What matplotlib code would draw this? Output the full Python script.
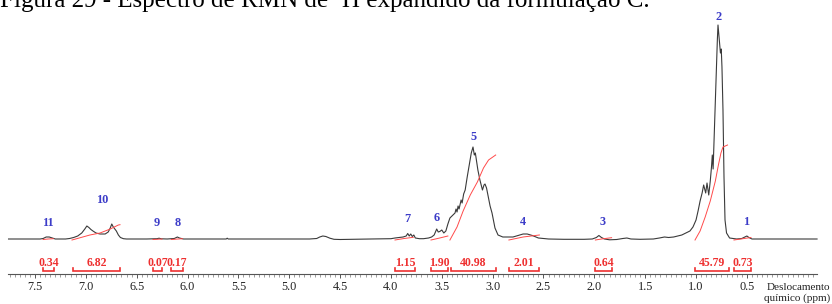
import numpy as np
import matplotlib
matplotlib.use("Agg")
import matplotlib.pyplot as plt
from matplotlib.ticker import FixedLocator, NullFormatter

# spectrum trace (ppm, intensity in arbitrary units)
ppm = [7.76, 7.60, 7.45, 7.42, 7.39, 7.36, 7.33, 7.30, 7.20, 7.16, 7.12, 7.08,
       7.04, 7.01, 6.99, 6.97, 6.95, 6.93, 6.90, 6.86, 6.81, 6.78, 6.76, 6.745,
       6.73, 6.715, 6.70, 6.68, 6.66, 6.63, 6.60, 6.40, 6.30, 6.28, 6.26, 6.20,
       6.13, 6.10, 6.08, 6.04, 5.90, 5.62, 5.61, 5.60, 4.80, 4.73, 4.70, 4.67,
       4.64, 4.60, 4.56, 4.50, 4.40, 4.20, 4.00, 3.96, 3.92, 3.88, 3.85, 3.835,
       3.82, 3.805, 3.79, 3.775, 3.76, 3.72, 3.68, 3.63, 3.60, 3.575, 3.55, 3.535,
       3.52, 3.50, 3.48, 3.46, 3.44, 3.42, 3.39, 3.37, 3.36, 3.35, 3.34, 3.33,
       3.31, 3.30, 3.285, 3.27, 3.25, 3.23, 3.21, 3.193, 3.18, 3.17, 3.155, 3.145,
       3.125, 3.10, 3.085, 3.075, 3.06, 3.046, 3.025, 3.006, 2.977, 2.947, 2.90,
       2.80, 2.75, 2.70, 2.66, 2.61, 2.55, 2.45, 2.30, 2.10, 2.02, 1.98, 1.955,
       1.93, 1.90, 1.85, 1.78, 1.72, 1.68, 1.64, 1.55, 1.42, 1.36, 1.31, 1.27,
       1.22, 1.18, 1.14, 1.10, 1.06, 1.03, 1.00, 0.98, 0.96, 0.94, 0.925, 0.905,
       0.892, 0.875, 0.86, 0.848, 0.84, 0.832, 0.825, 0.814, 0.80, 0.79, 0.784,
       0.776, 0.768, 0.76, 0.752, 0.745, 0.735, 0.725, 0.715, 0.70, 0.67, 0.60,
       0.55, 0.52, 0.50, 0.48, 0.45, 0.30, -0.19]
intensity = [0, 0, 0, 0.5, 2, 2, 1, 0, 0, 0.5, 1.5, 3,
             6, 10, 13, 11.5, 9.5, 8, 6, 5, 5, 7, 11, 15,
             12, 10, 8, 4, 1.5, 0.3, 0, 0, 0.3, 0.8, 0.2, 0,
             0.5, 2, 1, 0, 0, 0, 0.8, 0, 0, 0.5, 2, 3,
             2.5, 0.8, -0.3, -0.5, -0.3, 0, 0.3, 1, 1.5, 2, 3, 5.5,
             3, 5, 2.5, 4, 1, 0.3, 0.3, 1, 2, 4, 10, 7,
             7.5, 9, 6, 8, 15, 21, 24, 26, 30, 27, 33, 30,
             39, 36, 45, 49, 62, 74, 86, 92, 84, 86, 76, 69,
             59, 49, 54, 55, 51, 44, 33, 26, 11, 4, 2,
             2, 3.5, 5, 5, 3.5, 1, 0, -0.3, -0.3, 0, 1.5, 3.5,
             1.5, 0, -0.8, -0.5, 0.5, 1, 0, -0.3, 0, 1, 2, 1.5,
             2, 3, 4, 6, 8, 12, 19, 28, 38, 46, 54, 46,
             56, 44, 58, 72, 84, 70, 92, 129, 170, 200, 214,
             205, 196, 186, 190, 172, 129, 62, 19, 6, 1, 0,
             0.5, 2, 3, 1.5, 0, 0, 0]

# integral regions: (from ppm, to ppm, value)
int_from = [7.42, 7.126, 6.34, 6.16, 3.96, 3.606, 3.41, 2.84, 1.99, 1.01, 0.627]
int_to = [7.31, 6.664, 6.25, 6.045, 3.76, 3.439, 2.967, 2.54, 1.83, 0.676, 0.46]
int_values = ["0.34", "6.82", "0.07", "0.17", "1.15", "1.90", "40.98", "2.01",
              "0.64", "45.79", "0.73"]

# integral curves as drawn (ppm, height)
int_curve_ppm = [
    [7.42, 7.37, 7.32],
    [7.136, 6.96, 6.86, 6.76, 6.68, 6.664],
    [6.34, 6.25],
    [6.16, 6.05],
    [3.96, 3.87, 3.78],
    [3.606, 3.52, 3.44],
    [3.42, 3.35, 3.29, 3.22, 3.15, 3.09, 3.04, 2.97],
    [2.84, 2.70, 2.54],
    [1.99, 1.91, 1.83],
    [1.01, 0.96, 0.91, 0.86, 0.81, 0.78, 0.755, 0.735, 0.69],
    [0.627, 0.54, 0.46],
]
int_curve_h = [
    [-0.5, 0, 0.3],
    [-1, 4, 6, 10, 14, 14.3],
    [-0.5, 0],
    [-0.5, 0.3],
    [-1, 0.5, 1.7],
    [-1, 1, 3],
    [-1, 12, 28, 44, 57, 71, 79, 84],
    [-1, 2, 4],
    [-1, 0.3, 1.3],
    [-1, 8, 22, 38, 58, 74, 86, 92, 94],
    [-1, 0.3, 1.5],
]

# peak numbers
peak_labels = ["11", "10", "9", "8", "7", "6", "5", "4", "3", "2", "1"]
peak_ppm = [7.372, 6.841, 6.30, 6.094, 3.842, 3.547, 3.183, 2.70, 1.915, 0.774, 0.509]
peak_h = [16, 39, 16, 16, 20, 21, 102, 17, 17, 222, 17]

major_ticks = [7.5, 7.0, 6.5, 6.0, 5.5, 5.0, 4.5, 4.0, 3.5, 3.0, 2.5, 2.0, 1.5, 1.0, 0.5]

SERIF = ["Liberation Serif", "DejaVu Serif"]
RED = "#ee3030"
BLUE = "#3c3cc8"

fig = plt.figure(figsize=(8.32, 3.04), dpi=100)
ax = fig.add_axes([0, 0, 1, 1])
ax.set_xlim(7.844, -0.337)
ax.set_ylim(-65, 239)

ax.plot(ppm, intensity, color="#3a3a3a", lw=0.8)
for xs, hs in zip(int_curve_ppm, int_curve_h):
    ax.plot(xs, hs, color="#ff4a4a", lw=0.7)

for lab, x, h in zip(peak_labels, peak_ppm, peak_h):
    ax.text(x, h, lab, color=BLUE, fontsize=8.8, fontweight="bold",
            family=SERIF, ha="center", va="center")

# integration brackets below the spectrum
yb, ye = -32, -28.5
for a, b, v in zip(int_from, int_to, int_values):
    ax.plot([a, a, b, b], [ye, yb, yb, ye], color=RED, lw=1.2,
            solid_joinstyle="miter")
    ax.text((a + b) / 2, -27.3, v, color=RED, fontsize=8.5, fontweight="bold",
            family=SERIF, ha="center", va="baseline")

for s in ["top", "left", "right"]:
    ax.spines[s].set_visible(False)
ax.spines["bottom"].set_position(("data", -35))
ax.spines["bottom"].set_bounds(-0.19, 7.77)
ax.spines["bottom"].set_color("#555555")
ax.spines["bottom"].set_linewidth(0.8)
ax.set_yticks([])
ax.xaxis.set_major_locator(FixedLocator(major_ticks))
ax.set_xticklabels([f"{t:.1f}" for t in major_ticks], family=SERIF, fontsize=8.8)
ax.xaxis.set_minor_locator(FixedLocator(np.arange(-0.15, 7.76, 0.05)))
ax.xaxis.set_minor_formatter(NullFormatter())
ax.tick_params(axis="x", which="major", length=3.2, width=0.7, color="#555555",
               pad=2.2, labelcolor="#222222")
ax.tick_params(axis="x", which="minor", length=1.8, width=0.5, color="#777777")

fig.text(830 / 832, 1 - 287 / 304, "Deslocamento", fontsize=8, family=SERIF,
         color="#222222", ha="right", va="center")
fig.text(830 / 832, 1 - 298 / 304, "químico (ppm)", fontsize=8, family=SERIF,
         color="#222222", ha="right", va="center")

# the caption sits at the very top and is clipped there, as in the source image
fig.text(0.0, 1 - 7 / 304, "Figura 29 - Espectro de RMN de ¹H expandido da formulação C.",
         fontsize=18, family=SERIF, color="black", ha="left", va="baseline")

fig.savefig("out.png", dpi=100)
